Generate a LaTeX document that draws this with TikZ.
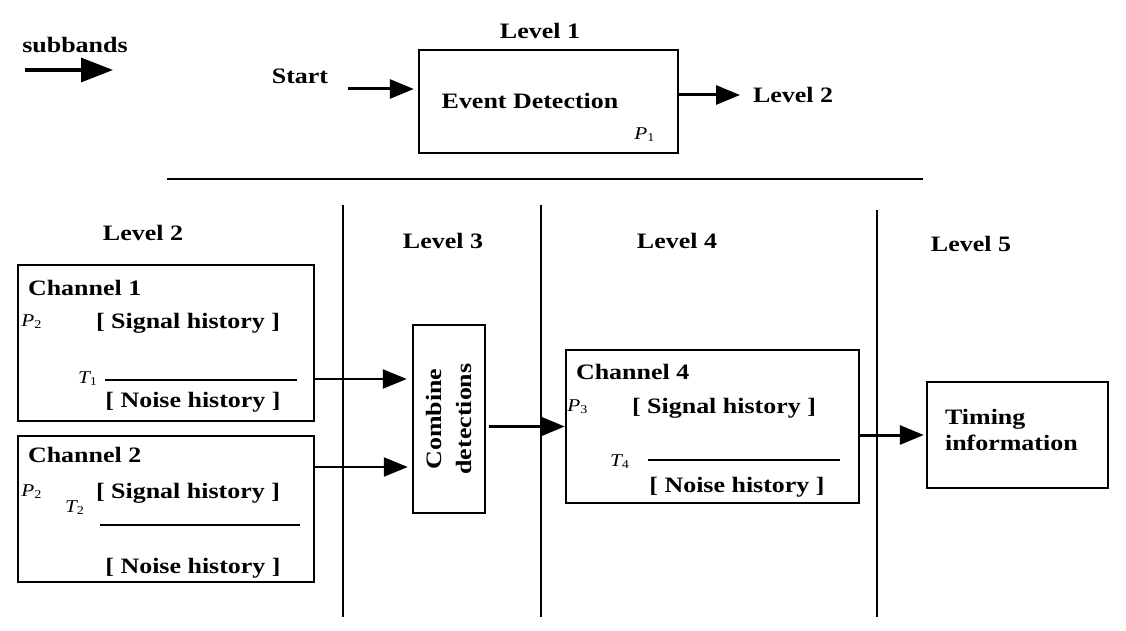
\documentclass[tikz,border=0pt]{standalone}
\usepackage{fontspec}
\setmainfont[FakeStretch=1.18]{Liberation Serif}
\usetikzlibrary{arrows.meta,positioning}

\begin{document}
\begin{tikzpicture}[x=.5pt,y=-.5pt,font=\bfseries\fontsize{11}{13}\selectfont,
 box/.style={draw,line width=1.2pt,inner sep=0pt},
 arr/.style={line width=1.5pt,-{Triangle[length=12pt,width=9.5pt]}},
 rule/.style={line width=.6pt},
 sym/.style={font=\normalfont\itshape\fontsize{9}{10}\selectfont,inner sep=0pt}]
\useasboundingbox (0,0) rectangle (1126,631);
% legend
\node (sub) at (75,45) {subbands};
\coordinate (subA) at (25,70);
\coordinate (subB) at (113,70);
\draw[line width=1.6pt,-{Triangle[length=16pt,width=12pt]}] (subA) -- (subB);
% level 1
\node (lv1) at (540,31) {Level 1};
\node[box,minimum width=129.5pt,minimum height=51.5pt] (ev) at (548.5,101.5) {};
\node (evt) at (530,101) {Event Detection};
\node[sym] (p1) at (645,135) {P\textsubscript{\upshape 1}};
\node (start) at (300,76) {Start};
\coordinate (startA) at (348,89);
\draw[arr,shorten >=2pt] (startA) -- (ev.west |- startA);
\node[anchor=west] (lv2top) at (746,95) {Level 2};
\draw[arr,shorten >=3pt] (ev.east |- lv2top) -- (lv2top.west);
\draw[line width=1pt] (167,179) -- (923,179);
% columns
\foreach \x/\t in {343/205,541/205,877/210}
 \draw[line width=.6pt] (\x,\t) -- (\x,617);
\node (lv2) at (143,233) {Level 2};
\node (lv3) at (443,241) {Level 3};
\node (lv4) at (677,241) {Level 4};
\node (lv5) at (971,244) {Level 5};
% channel 1
\node[box,minimum width=148pt,minimum height=78pt] (ch1) at (166,343) {};
\node[anchor=west] (ch1t) at (21,288) {Channel 1};
\node[sym] (p2a) at (32,322) {P\textsubscript{\upshape 2}};
\node (sig1) at (188,323) {[ Signal history ]};
\node[sym] (t1) at (88,379) {T\textsubscript{\upshape 1}};
\draw[rule] (105,380) -- (297,380);
\node (noi1) at (193,402) {[ Noise history ]};
% channel 2
\node[box,minimum width=148pt,minimum height=73pt] (ch2) at (166,509) {};
\node[anchor=west] (ch2t) at (21,455) {Channel 2};
\node[sym] (p2b) at (32,492) {P\textsubscript{\upshape 2}};
\node (sig2) at (188,493) {[ Signal history ]};
\node[sym] (t2) at (75,508) {T\textsubscript{\upshape 2}};
\draw[rule] (100,525) -- (300,525);
\node (noi2) at (193,568) {[ Noise history ]};
% level 3
\node[box,minimum width=36pt,minimum height=94pt] (comb) at (449,419) {};
\node[rotate=90,align=center] (combt) at (comb.center) {Combine\\[2pt]detections};
\draw[arr,line width=1.1pt,shorten >=2.5pt] (ch1.east |- t1) -- (comb.west |- t1);
\draw[arr,line width=1.1pt,shorten >=2pt] ([yshift=21pt]ch2.east) -- ([yshift=21pt]ch2.east -| comb.west);
% channel 4
\node[box,minimum width=146.5pt,minimum height=76.5pt] (ch4) at (712.5,426.5) {};
\node[anchor=west] (ch4t) at (569,372) {Channel 4};
\node[sym] (p3) at (578,407) {P\textsubscript{\upshape 3}};
\node (sig4) at (724,408) {[ Signal history ]};
\node[sym] (t4) at (620,462) {T\textsubscript{\upshape 4}};
\draw[rule] (648,460) -- (840,460);
\node (noi4) at (737,487) {[ Noise history ]};
\draw[arr,shorten <=1.5pt] (comb.east |- ch4.west) -- (ch4.west);
% level 5
\node[box,minimum width=90.5pt,minimum height=53pt] (tim) at (1017.5,435) {};
\node[align=left,anchor=west] (timt) at (938,430) {Timing\\information};
\draw[arr,shorten >=1pt] (ch4.east |- tim.west) -- (tim.west);
\end{tikzpicture}
\end{document}
